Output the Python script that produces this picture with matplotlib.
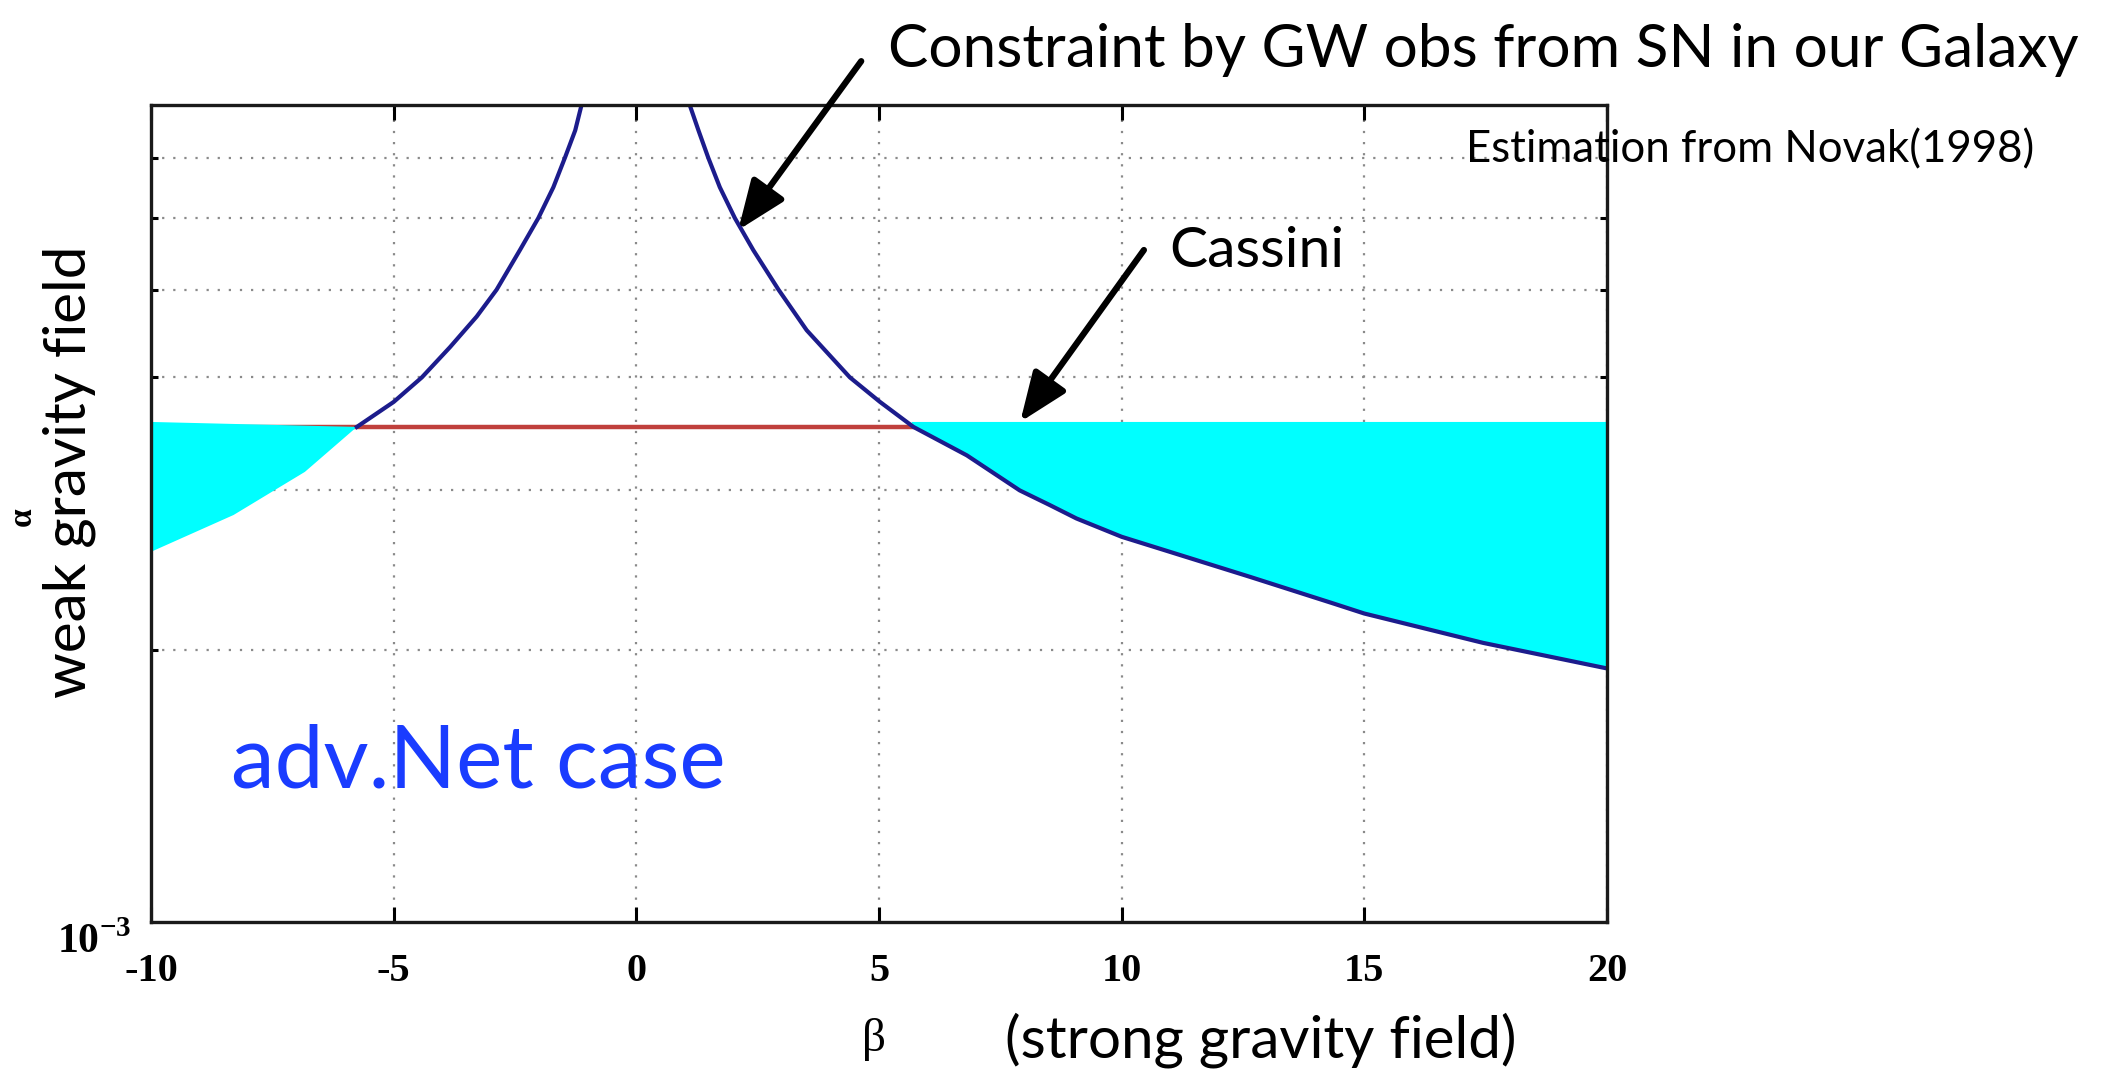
import matplotlib

matplotlib.use("Agg")
import matplotlib.pyplot as plt  # noqa: E402
from matplotlib.ticker import NullFormatter, FixedFormatter  # noqa: E402

CYAN = "#00FFFF"
NAVY = "#1C1C8C"
RED = "#C0403C"
LABEL_BLUE = "#1A3CFF"
GRID = "#8A8A8A"

# GW constraint curve, left branch (drawn part, above Cassini line)
left_beta = [-5.76, -5.00, -4.42, -3.84, -3.29, -2.88, -2.40, -2.02, -1.71, -1.47, -1.26, -1.13]
left_alpha = [3.526e-3, 3.758e-3, 4.0e-3, 4.32e-3, 4.67e-3, 5.0e-3, 5.53e-3, 6.0e-3,
              6.49e-3, 7.0e-3, 7.50e-3, 8.0e-3]

# lower edge of the left excluded (cyan) region
left_fill_beta = [-5.76, -6.83, -8.30, -10.0]
left_fill_alpha = [3.526e-3, 3.145e-3, 2.818e-3, 2.566e-3]

# GW constraint curve, right branch
right_beta = [1.10, 1.28, 1.48, 1.72, 2.03, 2.41, 2.93, 3.51, 4.40, 5.02, 5.71, 6.81,
              7.90, 8.52, 9.07, 10.0, 12.65, 14.36, 15.0, 17.45, 20.0]
right_alpha = [8.0e-3, 7.50e-3, 7.0e-3, 6.49e-3, 6.0e-3, 5.53e-3, 5.0e-3, 4.51e-3,
               4.0e-3, 3.758e-3, 3.526e-3, 3.28e-3, 3.0e-3, 2.89e-3, 2.793e-3, 2.666e-3,
               2.407e-3, 2.25e-3, 2.193e-3, 2.035e-3, 1.907e-3]

cassini_alpha = 3.526e-3
fill_top_alpha = 3.571e-3

x_ticks = [-10, -5, 0, 5, 10, 15, 20]
y_minor = [2e-3, 3e-3, 4e-3, 5e-3, 6e-3, 7e-3]

plt.rcParams["mathtext.fontset"] = "custom"
plt.rcParams["mathtext.rm"] = "Liberation Serif:bold"
plt.rcParams["mathtext.bf"] = "Liberation Serif:bold"

fig = plt.figure(figsize=(21.16, 10.73), dpi=100)
ax = fig.add_axes([0.0714, 0.1407, 0.688, 0.7614])

ax.set_yscale("log")
ax.set_xlim(-10, 20)
ax.set_ylim(1e-3, 8e-3)

# excluded regions
ax.fill([-10.0, left_fill_beta[0]] + left_fill_beta[1:] + [-10.0],
        [fill_top_alpha, cassini_alpha] + left_fill_alpha[1:] + [fill_top_alpha],
        color=CYAN, lw=0, zorder=2)
rb = [b for b in right_beta if b >= 5.71]
ra = [a for b, a in zip(right_beta, right_alpha) if b >= 5.71]
ax.fill([5.67, 20.0] + rb[::-1], [fill_top_alpha, fill_top_alpha] + ra[::-1],
        color=CYAN, lw=0, zorder=2)

ax.plot([-10, 20], [cassini_alpha, cassini_alpha], color=RED, lw=3.2, zorder=1.5)
ax.plot(left_beta, left_alpha, color=NAVY, lw=3.0, zorder=3)
ax.plot(right_beta, right_alpha, color=NAVY, lw=3.0, zorder=3)

# MATLAB-like axes
ax.set_xticks(x_ticks)
ax.set_xticklabels([str(t) for t in x_ticks])
ax.set_yticks([1e-3])
ax.yaxis.set_major_formatter(FixedFormatter([r"$10^{-3}$"]))
ax.set_yticks(y_minor, minor=True)
ax.yaxis.set_minor_formatter(NullFormatter())
ax.tick_params(axis="x", which="major", direction="in", length=11, width=2.2,
               top=True, pad=22, labelsize=29)
ax.tick_params(axis="y", which="major", direction="in", length=0, labelsize=30, pad=14)
ax.tick_params(axis="y", which="minor", direction="in", length=5, width=2.2, right=True)
for lab in ax.get_xticklabels() + ax.get_yticklabels():
    lab.set_fontfamily("Liberation Serif")
    lab.set_fontweight("bold")
for lab in ax.get_yticklabels():
    lab.set_verticalalignment("top")
for sp in ax.spines.values():
    sp.set_linewidth(2.4)
    sp.set_color("#1A1A1A")
    sp.set_zorder(4)

ax.set_axisbelow(True)
ax.grid(axis="x", which="major", color=GRID, ls=(0, (1, 4)), lw=1.6)
ax.grid(axis="y", which="minor", color=GRID, ls=(0, (1, 4)), lw=1.6)

# annotations
sans = "Lato"
fig.text(0.4197, 0.9376, "Constraint by GW obs from SN in our Galaxy", family=sans,
         fontsize=43.5, ha="left", va="baseline")
fig.text(0.6928, 0.849, "Estimation from Novak(1998)", family=sans, fontsize=31.5,
         ha="left", va="baseline")
fig.text(0.5524, 0.751, "Cassini", family=sans, fontsize=41, ha="left", va="baseline")
ax.text(-8.35, 1.50e-3, "adv.Net case", family=sans, fontsize=63, color=LABEL_BLUE,
        ha="left", va="center")

arrow = dict(arrowstyle="-|>,head_length=0.75,head_width=0.3", lw=4.5, color="black",
             shrinkA=0, shrinkB=0, mutation_scale=40)
ax.annotate("", xy=(2.10, 5.82e-3), xytext=(0.407, 0.943), textcoords="figure fraction",
            arrowprops=arrow, annotation_clip=False, zorder=6)
ax.annotate("", xy=(7.91, fill_top_alpha), xytext=(0.5406, 0.767),
            textcoords="figure fraction", arrowprops=arrow, annotation_clip=False, zorder=6)

# axis labels
fig.text(0.0325, 0.560, "weak gravity field", family=sans, fontsize=42, rotation=90,
         ha="center", va="center")
fig.text(0.0105, 0.518, "\u03b1", family="Liberation Serif", fontweight="bold",
         fontsize=24, rotation=90, ha="center", va="center")
fig.text(0.413, 0.031, "\u03b2", family="Liberation Serif", fontsize=34,
         ha="center", va="center")
fig.text(0.475, 0.031, "(strong gravity field)", family=sans, fontsize=42,
         ha="left", va="center")

fig.savefig("out.png", dpi=100)
plt.close(fig)
